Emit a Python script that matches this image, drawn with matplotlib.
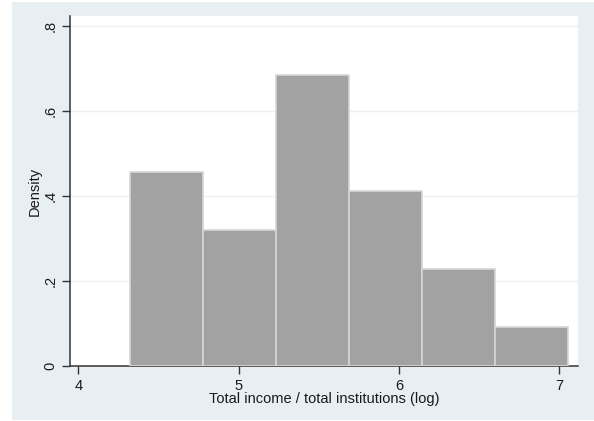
import numpy as np
import matplotlib.pyplot as plt
from matplotlib.patches import Rectangle

plt.rcParams['font.family'] = ['Liberation Sans', 'DejaVu Sans']

# histogram bins (log of income per institution) and density heights
bin_start = 4.321
bin_width = 0.4555
density = [0.457, 0.320, 0.686, 0.412, 0.229, 0.0915]
edges = bin_start + bin_width * np.arange(len(density) + 1)

yticks = [0, 0.2, 0.4, 0.6, 0.8]
ytick_labels = ['0', '.2', '.4', '.6', '.8']
xticks = [4, 5, 6, 7]

W, H = 594, 421
fig = plt.figure(figsize=(W / 100, H / 100), dpi=100)
fig.patch.set_facecolor('white')

# light graph region behind the plot area
fig.patches.append(Rectangle((12 / W, 1 / H), 1 - 12 / W, 1 - 3 / H,
                             transform=fig.transFigure, facecolor='#e8eff3',
                             edgecolor='none', zorder=-10))

ax = fig.add_axes([70 / W, 1 - 366 / H, (578 - 70) / W, (366 - 16) / H])
ax.set_zorder(1)
ax.set_facecolor('white')

ax.bar(edges[:-1], density, width=bin_width, align='edge',
       color='#a2a2a2', edgecolor='#d6d6d6', linewidth=1.2, zorder=3)

ax.set_xlim(3.947, 7.116)
ax.set_ylim(0, 0.824)
ax.set_yticks(yticks)
ax.set_yticklabels(ytick_labels, rotation=90, va='center')
ax.set_xticks(xticks)
ax.grid(axis='y', color='#eaf0f3', linewidth=1, zorder=0)
ax.set_axisbelow(True)

for s in ['top', 'right']:
    ax.spines[s].set_visible(False)
for s in ['left', 'bottom']:
    ax.spines[s].set_color('#333333')
    ax.spines[s].set_linewidth(1.1)

ax.tick_params(axis='both', direction='out', length=6, width=1,
               color='#333333', labelsize=10.5, labelcolor='#1a1a1a', pad=3)
ax.set_ylabel('Density', fontsize=10.5, color='#1a1a1a', labelpad=1)
ax.set_xlabel('Total income / total institutions (log)', fontsize=10.5,
              color='#1a1a1a', labelpad=0)

fig.savefig('out.png', dpi=100)
